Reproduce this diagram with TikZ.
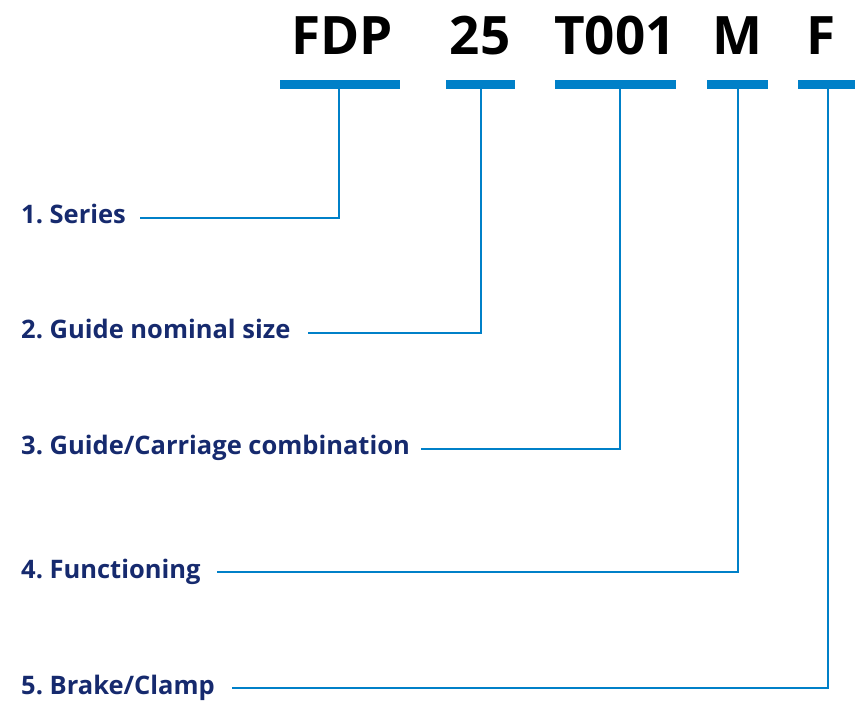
\documentclass[tikz,border=0pt]{standalone}
\usepackage{fontspec}
\setmainfont{Open Sans}
\frenchspacing
\definecolor{codeblue}{RGB}{0,128,200}
\definecolor{navy}{RGB}{22,42,110}
\tikzset{
  code/.style={font=\fontsize{53}{53}\selectfont\bfseries, anchor=base, inner sep=0pt},
  bar/.style={fill=codeblue, inner sep=0pt, minimum height=9pt},
  field/.style={font=\fontsize{25.5}{25.5}\selectfont\bfseries, text=navy, anchor=base west, inner sep=0pt},
  lead/.style={draw=codeblue, line width=2pt}
}
\begin{document}
\begin{tikzpicture}[x=1pt,y=-1pt]
\useasboundingbox (0,0) rectangle (855,703);
% ordering code
\node[code] (FDP) at (342,55) {FDP};
\node[code] (size) at (480,55) {25};
\node[code] (comb) at (615,55) {T001};
\node[code] (func) at (737,55) {M};
\node[code] (brake) at (821,55) {F};
\node[bar, minimum width=120pt] (barFDP) at (340,84.5) {};
\node[bar, minimum width=69pt] (barsize) at (480.5,84.5) {};
\node[bar, minimum width=121pt] (barcomb) at (615.5,84.5) {};
\node[bar, minimum width=61pt] (barfunc) at (737.5,84.5) {};
\node[bar, minimum width=60pt] (barbrake) at (828,84.5) {};
% fields
\node[field] (series) at (21,224) {1. Series};
\node[field] (nominal) at (21,339) {2. Guide nominal size};
\node[field] (guide) at (21,455) {3. Guide/Carriage combination};
\node[field] (functioning) at (21,578) {4. Functioning};
\node[field] (clamp) at (21,694) {5. Brake/Clamp};
\coordinate (s1) at (140,218);
\coordinate (s2) at (308,333);
\coordinate (s3) at (421,449);
\coordinate (s4) at (217,572);
\coordinate (s5) at (232,688);
\draw[lead] (s1) -| ([xshift=-1pt]barFDP.south);
\draw[lead] (s2) -| (barsize.south);
\draw[lead] (s3) -| ([xshift=4.5pt]barcomb.south);
\draw[lead] (s4) -| (barfunc.south);
\draw[lead] (s5) -| (barbrake.south);
\end{tikzpicture}
\end{document}
